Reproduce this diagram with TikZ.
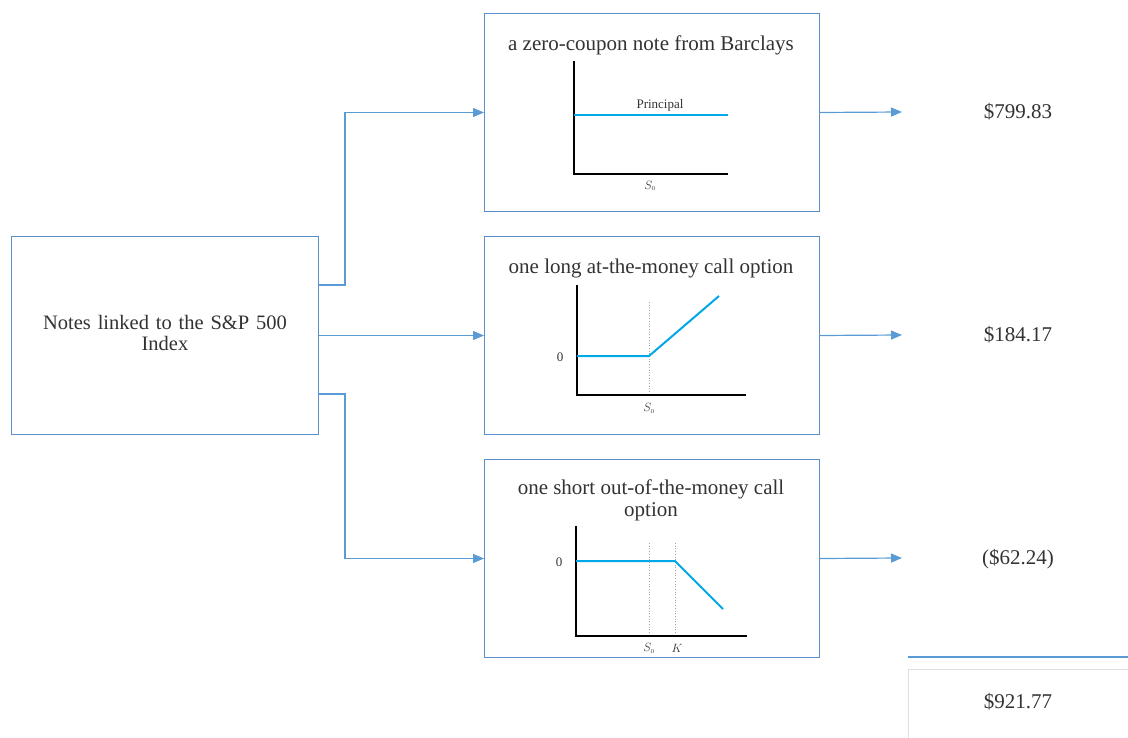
\documentclass[tikz,border=0pt]{standalone}
\usepackage{fontspec}
\setmainfont{Liberation Serif}
\usetikzlibrary{arrows.meta}
\definecolor{boxblue}{HTML}{5B8FCB}
\definecolor{lineblue}{HTML}{5B9BD5}
\definecolor{payoff}{HTML}{00A8E8}
\definecolor{txt}{HTML}{333333}
\tikzset{
  panel/.style={draw=boxblue, line width=1pt, fill=white},
  conn/.style={draw=lineblue, line width=1.2pt, -{Triangle[length=11pt,width=9pt]}},
  axis/.style={draw=black, line width=1.1pt},
  pay/.style={draw=payoff, line width=2pt},
  guide/.style={draw=gray!70, line width=0.7pt, dotted},
  title/.style={text=txt, font=\fontsize{21}{22}\selectfont, align=center},
  lefttitle/.style={text=txt, font=\fontsize{20.5}{21}\selectfont, align=center},
  val/.style={text=txt, font=\fontsize{21}{22}\selectfont},
  small/.style={text=txt, font=\fontsize{13}{14}\selectfont, inner sep=1pt},
  tiny/.style={text=txt, font=\fontsize{12}{13}\selectfont, inner sep=1pt},
}
\begin{document}
\begin{tikzpicture}[x=1pt,y=-1pt]
\useasboundingbox (0,0) rectangle (1128,738);
% boxes
\node[panel, minimum width=307pt, minimum height=198pt, anchor=north west, inner sep=0pt] (src) at (11,236) {};
\node[lefttitle, text width=290pt] (srct) at (165,333) {Notes linked to the S\&P 500\\Index};
\node[panel, minimum width=335pt, minimum height=198pt, anchor=north west, inner sep=0pt] (b1) at (484,13) {};
\node[panel, minimum width=335pt, minimum height=198pt, anchor=north west, inner sep=0pt] (b2) at (484,236) {};
\node[panel, minimum width=335pt, minimum height=198pt, anchor=north west, inner sep=0pt] (b3) at (484,459) {};
\node[title] (t1) at (651,45) {a zero-coupon note from Barclays};
\node[title] (t2) at (651,268) {one long at-the-money call option};
\node[title] (t3) at (651,500) {one short out-of-the-money call\\option};
% values
\node[val] (v1) at (1018,112) {\$799.83};
\node[val] (v2) at (1018,335) {\$184.17};
\node[val] (v3) at (1018,559) {(\$62.24)};
\coordinate (e1) at (902,112);
\coordinate (e2) at (902,335);
\coordinate (e3) at (902,558);
% connectors
\coordinate (s1) at (318,285);
\coordinate (s3) at (318,394);
\draw[conn] (s1) -- (345,285) |- (b1.west);
\draw[conn] (src.east) -- (b2.west);
\draw[conn] (s3) -- (345,394) |- (b3.west);
\draw[conn] (b1.east) -- (e1);
\draw[conn] (b2.east) -- (e2);
\draw[conn] (b3.east) -- (e3);
% total
\coordinate (ta) at (908,657);
\coordinate (tb) at (1128,657);
\draw[draw=lineblue, line width=1.4pt] (ta) -- (tb);
\draw[draw=gray!25, line width=1pt] (1130,669) -- (908.5,669) -- (908.5,740);
\node[val] (tot) at (1018,702) {\$921.77};
% graph 1
\draw[axis] (574,61) -- (574,174) -- (728,174);
\draw[pay] (574,115) -- (728,115);
\node[small] (p1) at (660,105) {Principal};
\node[tiny] (s01) at (650,186) {$S_{\scriptscriptstyle 0}$};
% graph 2
\draw[guide] (649,302) -- (649,395);
\draw[axis] (577,285) -- (577,395) -- (746,395);
\draw[pay] (577,356) -- (649,356) -- (719,296);
\node[small] (z2) at (560,357) {0};
\node[tiny] (s02) at (649,408) {$S_{\scriptscriptstyle 0}$};
% graph 3
\draw[guide] (649,543) -- (649,636);
\draw[guide] (675,543) -- (675,636);
\draw[axis] (576,526) -- (576,636) -- (747,636);
\draw[pay] (576,561) -- (675,561) -- (723,609);
\node[small] (z3) at (559,562) {0};
\node[tiny] (s03) at (649,648) {$S_{\scriptscriptstyle 0}$};
\node[tiny] (k3) at (677,648) {$K$};
\end{tikzpicture}
\end{document}
